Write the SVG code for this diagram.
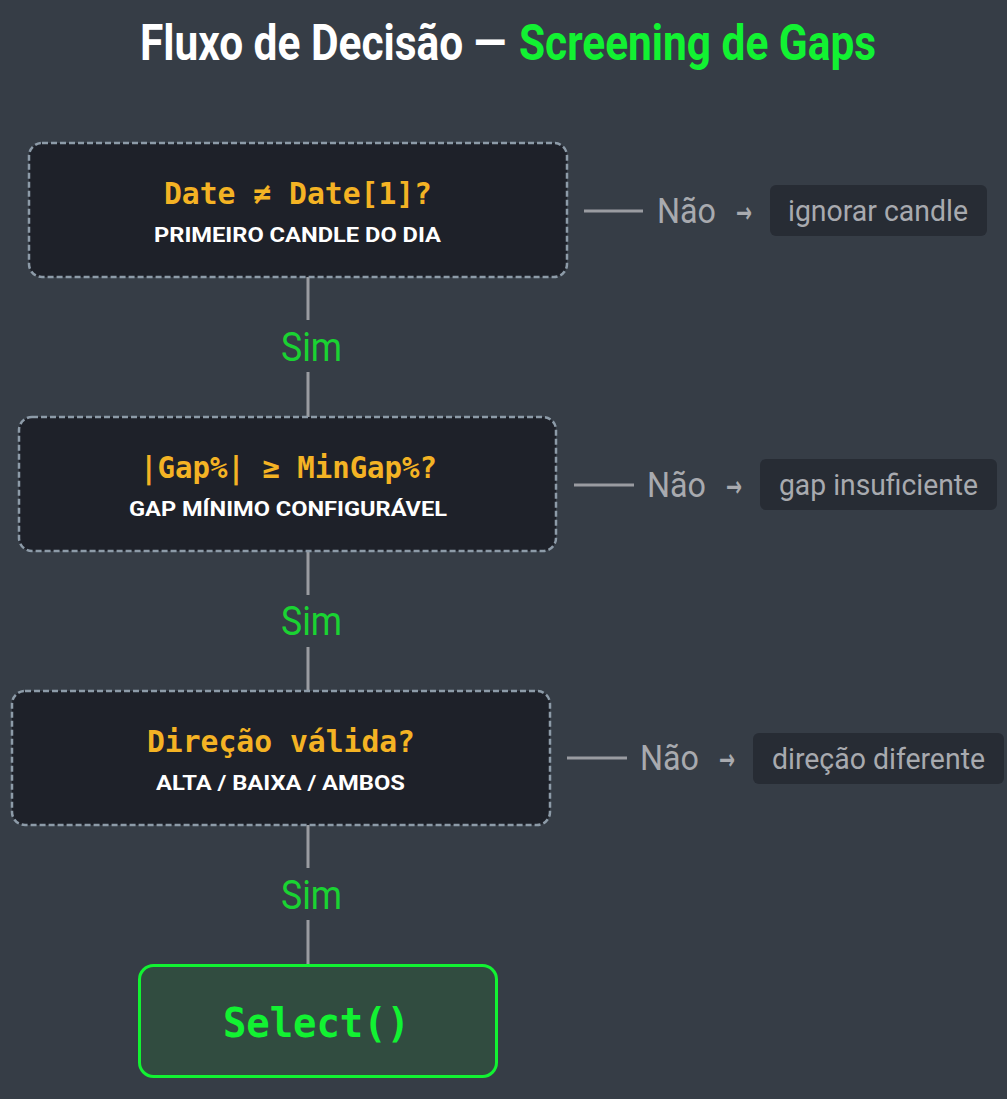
<svg xmlns="http://www.w3.org/2000/svg" width="1007" height="1099" viewBox="0 0 1007 1099">
<style>
.bg{fill:#363d46}
.dec{fill:#1e2129;stroke:#8d9ba8;stroke-width:2.5;stroke-dasharray:6 3}
.q{font-family:"DejaVu Sans Mono","Liberation Mono",monospace;font-weight:bold;font-size:30px;fill:#f4b324}
.sub{font-family:Roboto,"Liberation Sans",sans-serif;font-weight:bold;font-size:21px;fill:#ffffff}
.conn{stroke:#9a9ca1;stroke-width:3;fill:none}
.sim{font-family:Roboto,"Liberation Sans",sans-serif;font-size:40px;fill:#1ad332}
.nao{font-family:Roboto,"Liberation Sans",sans-serif;font-size:35px;fill:#a8aaaf}
.arr{font-family:"DejaVu Sans","Liberation Sans",sans-serif;font-weight:bold;font-size:28px;fill:#a8aaaf}
.out{fill:#272c34}
.outt{font-family:Roboto,"Liberation Sans",sans-serif;font-size:30px;fill:#a8aaaf}
.title{font-family:Roboto,"Liberation Sans",sans-serif;font-weight:bold;font-size:38px}
</style>
<rect class="bg" x="0" y="0" width="1007" height="1099"/>
<g id="title">
<text class="title" transform="translate(140,60) scale(1,1.3)" x="0" y="0" fill="#ffffff" textLength="366" lengthAdjust="spacingAndGlyphs">Fluxo de Decisão —</text>
<text class="title" transform="translate(519,60) scale(1,1.3)" x="0" y="0" fill="#12f232" textLength="357" lengthAdjust="spacingAndGlyphs">Screening de Gaps</text>
</g>
<g id="connectors">
<line class="conn" x1="308" y1="277" x2="308" y2="320"/>
<line class="conn" x1="308" y1="372" x2="308" y2="417"/>
<line class="conn" x1="308" y1="551" x2="308" y2="595"/>
<line class="conn" x1="308" y1="647" x2="308" y2="691"/>
<line class="conn" x1="308" y1="825" x2="308" y2="868"/>
<line class="conn" x1="308" y1="920" x2="308" y2="965"/>
<text class="sim" x="281" y="361" textLength="61" lengthAdjust="spacingAndGlyphs">Sim</text>
<text class="sim" x="281" y="635" textLength="61" lengthAdjust="spacingAndGlyphs">Sim</text>
<text class="sim" x="281" y="909" textLength="61" lengthAdjust="spacingAndGlyphs">Sim</text>
<line class="conn" x1="584" y1="211" x2="643" y2="211"/>
<line class="conn" x1="574" y1="485" x2="634" y2="485"/>
<line class="conn" x1="567" y1="758" x2="627" y2="758"/>
<text class="nao" x="657" y="223" textLength="59" lengthAdjust="spacingAndGlyphs">Não</text>
<text class="nao" x="647" y="497" textLength="59" lengthAdjust="spacingAndGlyphs">Não</text>
<text class="nao" x="640" y="770" textLength="59" lengthAdjust="spacingAndGlyphs">Não</text>
<text class="arr" x="736" y="222" textLength="16" lengthAdjust="spacingAndGlyphs">→</text>
<text class="arr" x="726" y="496" textLength="16" lengthAdjust="spacingAndGlyphs">→</text>
<text class="arr" x="719" y="769" textLength="16" lengthAdjust="spacingAndGlyphs">→</text>
</g>
<g id="node1">
<rect class="dec" x="29" y="143" width="538" height="134" rx="13"/>
<text class="q" x="164" y="204" textLength="268" lengthAdjust="spacingAndGlyphs">Date ≠ Date[1]?</text>
<text class="sub" x="154" y="242" textLength="287" lengthAdjust="spacingAndGlyphs">PRIMEIRO CANDLE DO DIA</text>
</g>
<g id="node2">
<rect class="dec" x="19" y="417" width="537" height="134" rx="13"/>
<text class="q" x="140" y="478" textLength="297" lengthAdjust="spacingAndGlyphs">|Gap%| ≥ MinGap%?</text>
<text class="sub" x="129" y="516" textLength="318" lengthAdjust="spacingAndGlyphs">GAP MÍNIMO CONFIGURÁVEL</text>
</g>
<g id="node3">
<rect class="dec" x="12" y="691" width="538" height="134" rx="13"/>
<text class="q" x="147" y="752" textLength="268" lengthAdjust="spacingAndGlyphs">Direção válida?</text>
<text class="sub" x="156" y="790" textLength="249" lengthAdjust="spacingAndGlyphs">ALTA / BAIXA / AMBOS</text>
</g>
<g id="node4">
<rect x="139.5" y="965.5" width="357" height="111" rx="14" fill="#314c40" stroke="#12f232" stroke-width="3"/>
<text x="223" y="1037" font-family="'DejaVu Sans Mono','Liberation Mono',monospace" font-weight="bold" font-size="41" fill="#12f232" textLength="187" lengthAdjust="spacingAndGlyphs">Select()</text>
</g>
<g id="out1">
<rect class="out" x="770" y="185" width="217" height="51" rx="6"/>
<text class="outt" x="788" y="221" textLength="180" lengthAdjust="spacingAndGlyphs">ignorar candle</text>
</g>
<g id="out2">
<rect class="out" x="760" y="459" width="237" height="51" rx="6"/>
<text class="outt" x="779" y="495" textLength="199" lengthAdjust="spacingAndGlyphs">gap insuficiente</text>
</g>
<g id="out3">
<rect class="out" x="753" y="733" width="251" height="51" rx="6"/>
<text class="outt" x="772" y="769" textLength="213" lengthAdjust="spacingAndGlyphs">direção diferente</text>
</g>
</svg>
